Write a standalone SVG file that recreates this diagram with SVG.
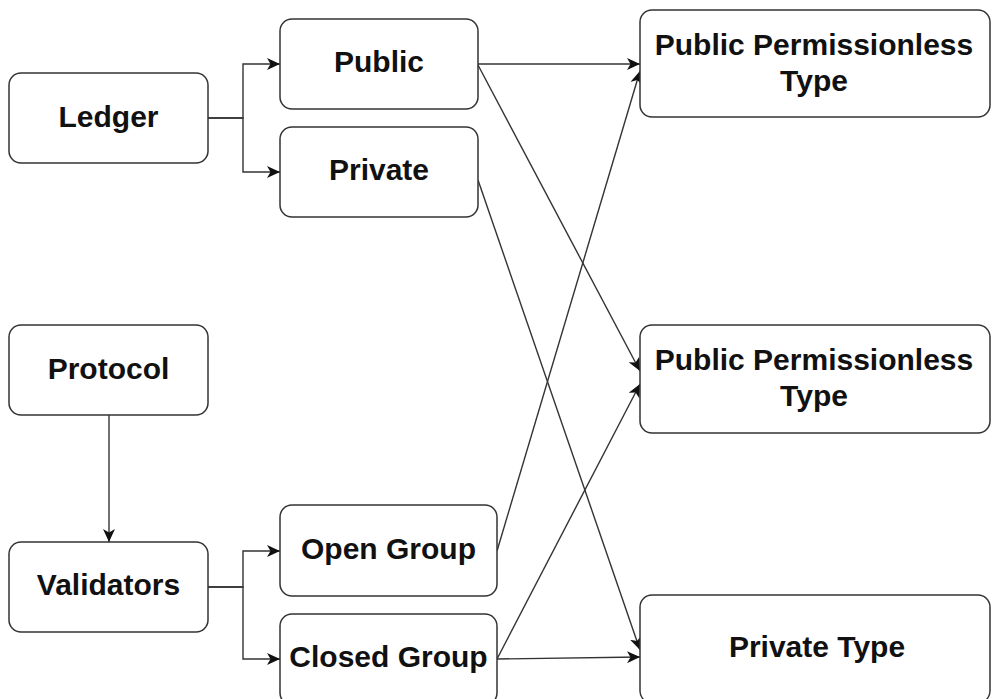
<svg xmlns="http://www.w3.org/2000/svg" width="992" height="699" viewBox="0 0 992 699">
  <style>
    .box { fill: #ffffff; stroke: #333333; stroke-width: 1.5; }
    .lbl { font-family: "Liberation Sans", Arial, sans-serif; font-weight: bold; font-size: 30px; fill: #111111; text-anchor: middle; }
    .edge { fill: none; stroke: #333333; stroke-width: 1.4; marker-end: url(#arrow); }
  </style>
  <defs>
    <marker id="arrow" markerUnits="userSpaceOnUse" markerWidth="14" markerHeight="12" viewBox="0 0 14 12" refX="13" refY="6" orient="auto">
      <path d="M0,0 L13,6 L0,12 L3.5,6 z" fill="#111111"/>
    </marker>
  </defs>
  <rect width="992" height="699" fill="#ffffff"/>

  <!-- connectors -->
  <g id="connectors">
    <path class="edge" d="M208,118 H243 V64 H280"/>
    <path class="edge" d="M208,118 H243 V172 H280"/>
    <path class="edge" d="M109,415 V542"/>
    <path class="edge" d="M208,587 H243 V551 H280"/>
    <path class="edge" d="M208,587 H243 V659 H280"/>
    <path class="edge" d="M478,64 H640"/>
    <path class="edge" d="M478,65 L640,371"/>
    <path class="edge" d="M478,180 L640,650"/>
    <path class="edge" d="M497,551 L640,71"/>
    <path class="edge" d="M497,659 L640,384"/>
    <path class="edge" d="M497,659 L640,657"/>
  </g>

  <!-- nodes -->
  <g id="ledger">
    <rect class="box" x="9" y="73" width="199" height="90" rx="12"/>
    <text class="lbl" x="108.5" y="127">Ledger</text>
  </g>
  <g id="public">
    <rect class="box" x="280" y="19" width="198" height="90" rx="12"/>
    <text class="lbl" x="379" y="72">Public</text>
  </g>
  <g id="private">
    <rect class="box" x="280" y="127" width="198" height="90" rx="12"/>
    <text class="lbl" x="379" y="180">Private</text>
  </g>
  <g id="protocol">
    <rect class="box" x="9" y="325" width="199" height="90" rx="12"/>
    <text class="lbl" x="108.5" y="379">Protocol</text>
  </g>
  <g id="validators">
    <rect class="box" x="9" y="542" width="199" height="90" rx="12"/>
    <text class="lbl" x="108.5" y="595">Validators</text>
  </g>
  <g id="open-group">
    <rect class="box" x="280" y="505" width="217" height="91" rx="12"/>
    <text class="lbl" x="388.5" y="559">Open Group</text>
  </g>
  <g id="closed-group">
    <rect class="box" x="280" y="614" width="217" height="91" rx="12"/>
    <text class="lbl" x="388.5" y="667">Closed Group</text>
  </g>
  <g id="public-permissionless-1">
    <rect class="box" x="640" y="10" width="350" height="107" rx="12"/>
    <text class="lbl" x="814" y="55">Public Permissionless</text>
    <text class="lbl" x="814" y="91">Type</text>
  </g>
  <g id="public-permissionless-2">
    <rect class="box" x="640" y="325" width="350" height="108" rx="12"/>
    <text class="lbl" x="814" y="370">Public Permissionless</text>
    <text class="lbl" x="814" y="406">Type</text>
  </g>
  <g id="private-type">
    <rect class="box" x="640" y="595" width="350" height="108" rx="12"/>
    <text class="lbl" x="817" y="657">Private Type</text>
  </g>
</svg>
